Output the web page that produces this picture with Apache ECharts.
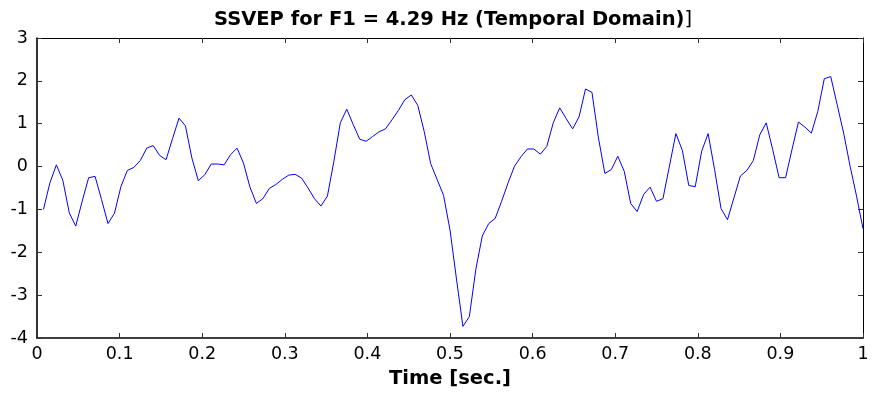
<!DOCTYPE html>
<html>
<head>
<meta charset="utf-8">
<script src="https://cdn.jsdelivr.net/npm/echarts@6/dist/echarts.min.js"></script>
<style>html,body{margin:0;padding:0;background:#fff}#c{width:872px;height:394px}</style>
</head>
<body>
<div id="c"></div>
<script>
var sampleRate = 128;
var values = [
-1.00,-0.38,0.04,-0.32,-1.08,-1.39,-0.81,-0.26,-0.23,-0.77,
-1.33,-1.09,-0.47,-0.09,-0.02,0.14,0.43,0.49,0.26,0.16,
0.65,1.13,0.95,0.20,-0.33,-0.19,0.06,0.06,0.04,0.28,
0.43,0.08,-0.48,-0.86,-0.75,-0.51,-0.42,-0.30,-0.20,-0.18,
-0.27,-0.50,-0.75,-0.92,-0.69,0.12,1.02,1.34,0.98,0.64,
0.59,0.70,0.81,0.88,1.09,1.31,1.56,1.67,1.43,0.82,
0.07,-0.30,-0.67,-1.48,-2.62,-3.73,-3.50,-2.40,-1.62,-1.33,
-1.21,-0.81,-0.38,0.01,0.23,0.41,0.41,0.29,0.47,1.02,
1.37,1.12,0.88,1.16,1.81,1.73,0.67,-0.16,-0.07,0.24,
-0.11,-0.86,-1.05,-0.65,-0.48,-0.81,-0.75,0.01,0.77,0.38,
-0.44,-0.47,0.36,0.77,-0.07,-0.98,-1.24,-0.73,-0.22,-0.09,
0.14,0.74,1.02,0.40,-0.26,-0.26,0.40,1.04,0.92,0.78,
1.29,2.05,2.10,1.44,0.78,0.01,-0.69,-1.45
];
var times = values.map(function(v, i){ return (i + 1) / sampleRate; });
var titleText = 'SSVEP for F1 = 4.29 Hz (Temporal Domain)';
var titleTail = ']';
var xName = 'Time [sec.]';

var data = times.map(function(t, i){ return [t, values[i]]; });
var FONT = 'DejaVu Sans';
var chart = echarts.init(document.getElementById('c'));
function axisLine(w){ return {show: true, onZero: false, lineStyle: {color: '#000', width: w}}; }
function axisTick(){ return {show: true, inside: true, length: 5, lineStyle: {color: '#333', width: 1}}; }
chart.setOption({
  animation: false,
  title: {
    text: '{b|' + titleText + '}{n|' + titleTail + '}',
    left: 448, top: 5, textAlign: 'center',
    textStyle: {
      rich: {
        b: {fontFamily: FONT, fontWeight: 'bold', fontSize: 19.5, color: '#000'},
        n: {fontFamily: FONT, fontWeight: 'normal', fontSize: 19.5, color: '#000'}
      }
    }
  },
  grid: {left: 37, right: 9, top: 38, bottom: 55, containLabel: false},
  xAxis: [
    {type: 'value', min: 0, max: 1, interval: 0.1, position: 'bottom',
      name: xName, nameLocation: 'middle', nameGap: 31,
      nameTextStyle: {fontFamily: FONT, fontWeight: 'bold', fontSize: 19.5, color: '#000'},
      axisLine: axisLine(1.6), axisTick: axisTick(), splitLine: {show: false},
      axisLabel: {fontFamily: FONT, fontSize: 17.5, color: '#000', margin: 7}},
    {type: 'value', min: 0, max: 1, interval: 0.1, position: 'top',
      axisLine: axisLine(1), axisTick: axisTick(), splitLine: {show: false},
      axisLabel: {show: false}}
  ],
  yAxis: [
    {type: 'value', min: -4, max: 3, interval: 1, position: 'left',
      axisLine: axisLine(1.6), axisTick: axisTick(), splitLine: {show: false},
      axisLabel: {fontFamily: FONT, fontSize: 17.5, color: '#000', margin: 9}},
    {type: 'value', min: -4, max: 3, interval: 1, position: 'right',
      axisLine: axisLine(1), axisTick: axisTick(), splitLine: {show: false},
      axisLabel: {show: false}}
  ],
  series: [{
    type: 'line', data: data, xAxisIndex: 0, yAxisIndex: 0,
    showSymbol: false, symbol: 'none',
    lineStyle: {color: '#0000ff', width: 1}
  }]
});
</script>
</body>
</html>
